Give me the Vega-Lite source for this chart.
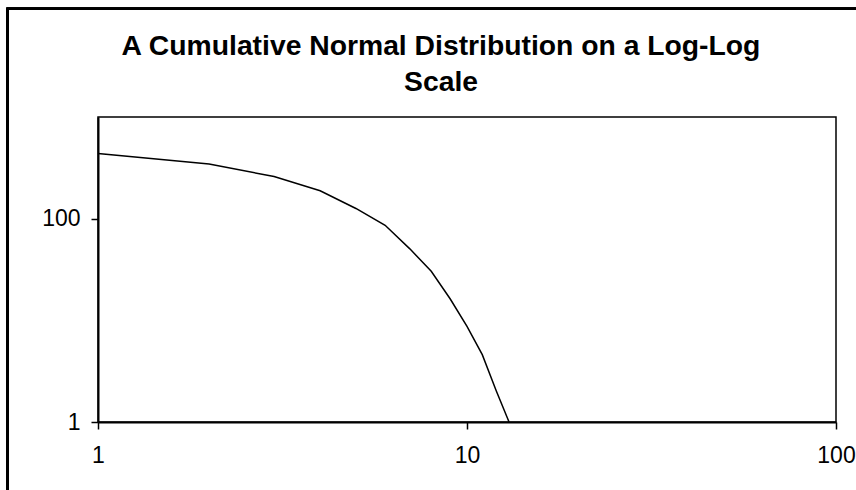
{
  "$schema": "https://vega.github.io/schema/vega-lite/v6.json",
  "autosize": "none",
  "width": 738,
  "height": 305,
  "padding": {"left": 98, "top": 117, "right": 20, "bottom": 68},
  "background": "white",
  "title": {
    "text": ["A Cumulative Normal Distribution on a Log-Log", "Scale"],
    "font": "Liberation Sans",
    "fontSize": 28.3,
    "fontWeight": "bold",
    "lineHeight": 36,
    "anchor": "middle",
    "frame": "group",
    "offset": 24,
    "dx": -26,
    "dy": 113,
    "color": "black"
  },
  "config": {
    "view": {"stroke": "black", "strokeWidth": 1.5},
    "axis": {
      "grid": false,
      "domainColor": "black",
      "domainWidth": 2,
      "tickColor": "black",
      "tickSize": 7,
      "tickWidth": 1.5,
      "labelFont": "Liberation Sans",
      "labelFontSize": 23,
      "labelColor": "black",
      "title": null
    }
  },
  "data": {
    "values": [
      {"x": 1, "y": 437},
      {"x": 2, "y": 344},
      {"x": 3, "y": 260},
      {"x": 4, "y": 188},
      {"x": 5, "y": 126},
      {"x": 6, "y": 86},
      {"x": 7, "y": 50.5},
      {"x": 8, "y": 30.4},
      {"x": 9, "y": 16.3},
      {"x": 10, "y": 8.7},
      {"x": 11, "y": 4.6},
      {"x": 12, "y": 2.03},
      {"x": 13, "y": 1.0}
    ]
  },
  "layer": [
    {
      "mark": {"type": "rect", "fill": null, "fillOpacity": 0, "stroke": "black", "strokeWidth": 2},
      "encoding": {
        "x": {"datum": 0.5686, "type": "quantitative"},
        "x2": {"datum": 1000},
        "y": {"datum": 11580, "type": "quantitative"},
        "y2": {"datum": 0.0001}
      }
    },
    {
      "mark": {"type": "line", "color": "black", "strokeWidth": 1.5},
      "encoding": {
        "x": {
          "field": "x",
          "type": "quantitative",
          "scale": {"type": "log", "domain": [1, 100], "nice": false},
          "axis": {"values": [1, 10, 100], "labelPadding": 15, "format": "d", "labelFlush": false}
        },
        "y": {
          "field": "y",
          "type": "quantitative",
          "scale": {"type": "log", "domain": [1, 1000], "nice": false},
          "axis": {"values": [1, 100], "labelPadding": 11, "format": "d"}
        }
      }
    }
  ]
}
